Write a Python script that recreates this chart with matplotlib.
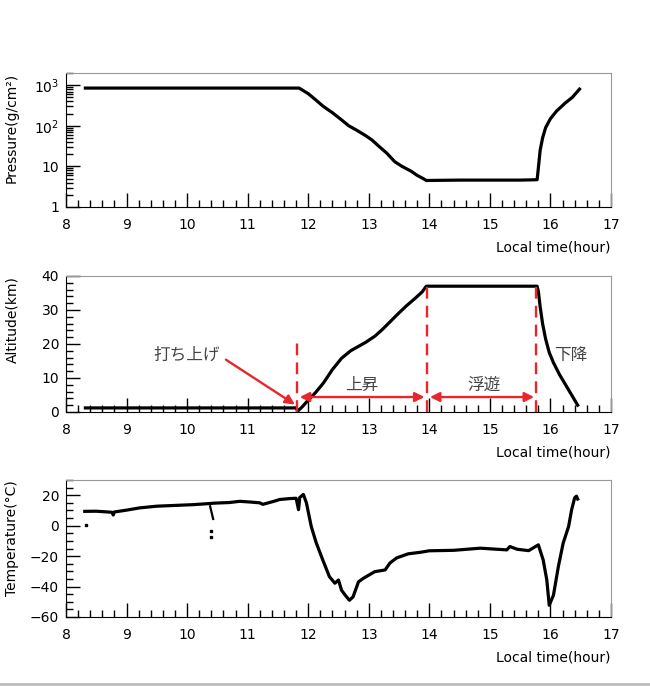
import matplotlib
matplotlib.use("Agg")
import matplotlib.pyplot as plt
import numpy as np
from matplotlib.ticker import MultipleLocator, FixedLocator, FixedFormatter, LogLocator, NullFormatter
from matplotlib.lines import Line2D

plt.rcParams['font.family'] = ['DejaVu Sans', 'Noto Sans CJK JP']

# ---------------- data ----------------
p_time = [8.32, 11.85, 12.0, 12.12, 12.25, 12.40, 12.55, 12.67, 12.80, 12.95, 13.05, 13.15,
          13.30, 13.43, 13.55, 13.70, 13.80, 13.90, 13.95, 14.50, 15.00, 15.50, 15.78,
          15.80, 15.83, 15.87, 15.92, 16.00, 16.10, 16.24, 16.36, 16.48]
p_vals = [850, 850, 620, 440, 300, 210, 140, 100, 78, 57, 45, 33,
          21, 13, 10, 7.6, 6.0, 5.0, 4.5, 4.6, 4.6, 4.6, 4.7,
          9, 25, 50, 90, 150, 230, 360, 500, 800]

a_time = [8.32, 11.80, 11.83, 11.90, 12.00, 12.12, 12.25, 12.40, 12.55, 12.70, 12.95, 13.10,
          13.22, 13.35, 13.49, 13.62, 13.77, 13.88, 13.95, 14.50, 15.00, 15.50, 15.78,
          15.80, 15.83, 15.87, 15.92, 15.98, 16.05, 16.15, 16.25, 16.35, 16.45]
a_vals = [1.2, 1.2, 0.3, 1.5, 3.5, 5.7, 8.5, 12.5, 15.8, 18.0, 20.5, 22.3,
          24.2, 26.5, 29.0, 31.2, 33.5, 35.3, 37.0, 37.0, 37.0, 37.0, 37.0,
          35.5, 31.0, 26.0, 21.5, 17.5, 14.5, 11.0, 8.0, 5.0, 2.0]

t_time = [8.31, 8.50, 8.76, 8.78, 8.80, 9.00, 9.22, 9.50, 9.80, 10.10, 10.36, 10.45, 10.70,
          10.87, 11.05, 11.20, 11.25, 11.45, 11.53, 11.70, 11.80, 11.84, 11.86, 11.92, 11.97,
          12.05, 12.13, 12.24, 12.35, 12.44, 12.50, 12.55, 12.61, 12.68, 12.74, 12.83, 12.91,
          13.10, 13.27, 13.35, 13.46, 13.65, 13.85, 14.00, 14.40, 14.84, 15.28, 15.33, 15.45,
          15.64, 15.80, 15.88, 15.94, 15.98, 16.05, 16.13, 16.21, 16.30, 16.35, 16.40, 16.43,
          16.45]
t_vals = [9.4, 9.5, 8.8, 7.0, 9.0, 10.2, 11.7, 12.8, 13.3, 13.8, 14.5, 14.8, 15.2,
          16.0, 15.5, 15.0, 14.0, 16.2, 17.2, 17.8, 18.0, 10.5, 18.5, 20.5, 15.0,
          -0.5, -11.0, -22.5, -33.5, -37.8, -35.7, -42.4, -45.6, -49.0, -46.8, -36.9, -34.6,
          -30.2, -29.1, -24.5, -21.2, -18.5, -17.5, -16.5, -16.2, -14.8, -15.9, -13.7, -15.5,
          -16.4, -12.6, -22.5, -35.7, -52.3, -45.6, -27.0, -11.5, -0.5, 10.5, 18.3, 19.4,
          17.5]
t_glitch_time = [10.38, 10.43]
t_glitch_vals = [12.7, 4.4]
t_dot_time = [8.33, 10.40, 10.40]
t_dot_vals = [0.6, -3.8, -7.5]

x_ticks = [8, 9, 10, 11, 12, 13, 14, 15, 16, 17]
p_ticks = [1, 10, 100, 1000]
p_tick_labels = ['1', '10', r'$\mathregular{10^{2}}$', r'$\mathregular{10^{3}}$']

# phase annotations
phase_lines = [11.81, 13.96, 15.76]
phase_line_top = [21.3, 37.0, 37.5]
ascent_span = [11.86, 13.92]
float_span = [14.01, 15.73]
arrow_height = 4.4
launch_label = "打ち上げ"
launch_text_pos = (9.99, 16.9)
launch_arrow_from = (10.64, 15.4)
launch_arrow_to = (11.78, 2.2)
phase_labels = ["上昇", "浮遊", "下降"]
phase_label_pos = [(12.88, 8.1), (14.90, 8.1), (16.34, 16.9)]

# ---------------- figure ----------------
W, H = 650, 686
fig = plt.figure(figsize=(W / 100, H / 100), dpi=100)

LEFT, RIGHT = 66, 611

def ax_rect(top_px, bot_px, left_px=LEFT, right_px=RIGHT):
    return [left_px / W, 1 - bot_px / H, (right_px - left_px) / W, (bot_px - top_px) / H]

ax1 = fig.add_axes(ax_rect(73, 207))
ax2 = fig.add_axes(ax_rect(276, 412))
ax3 = fig.add_axes(ax_rect(480, 617))

RED = '#e8262b'
FS = 10

def style(ax, ylabel):
    ax.set_xlim(8, 17)
    ax.xaxis.set_major_locator(FixedLocator(x_ticks))
    ax.xaxis.set_minor_locator(MultipleLocator(0.2))
    ax.tick_params(axis='both', which='major', direction='in', length=10, width=1,
                   labelsize=FS, top=False, right=False, color='black')
    ax.tick_params(axis='both', which='minor', direction='in', length=5, width=1,
                   top=False, right=False, color='black')
    ax.tick_params(axis='x', which='major', pad=8)
    ax.tick_params(axis='y', which='major', pad=5)
    for s in ['top', 'right']:
        ax.spines[s].set_color('#999999')
    for s in ['left', 'bottom']:
        ax.spines[s].set_color('black')
    ax.set_xlabel('Local time(hour)', fontsize=FS, loc='right', labelpad=6)
    ax.set_ylabel(ylabel, fontsize=FS, loc='top')
    ax.yaxis.set_label_coords((19 - LEFT) / (RIGHT - LEFT), 1.0)

# Pressure
ax1.plot(p_time, p_vals, color='black', lw=2.3)
ax1.set_yscale('log')
ax1.set_ylim(1, 2000)
style(ax1, 'Pressure(g/cm²)')
ax1.yaxis.set_major_locator(FixedLocator(p_ticks))
ax1.yaxis.set_major_formatter(FixedFormatter(p_tick_labels))
ax1.yaxis.set_minor_locator(LogLocator(base=10, subs=np.arange(2, 10)))
ax1.yaxis.set_minor_formatter(NullFormatter())

# Altitude
ax2.plot(a_time, a_vals, color='black', lw=2.3)
ax2.set_ylim(0, 40)
style(ax2, 'Altitude(km)')
ax2.yaxis.set_major_locator(MultipleLocator(10))
ax2.yaxis.set_minor_locator(MultipleLocator(2))
for x, top in zip(phase_lines, phase_line_top):
    ax2.plot([x, x], [0, top], color=RED, lw=1.7, ls=(0, (5, 3)))
for span in (ascent_span, float_span):
    ax2.annotate('', xy=(span[1], arrow_height), xytext=(span[0], arrow_height),
                 arrowprops=dict(arrowstyle='<|-|>', color=RED, lw=1.7,
                                 mutation_scale=14, shrinkA=0, shrinkB=0))
ax2.annotate('', xy=launch_arrow_to, xytext=launch_arrow_from,
             arrowprops=dict(arrowstyle='-|>', color=RED, lw=1.7,
                             mutation_scale=14, shrinkA=0, shrinkB=0))
ax2.text(launch_text_pos[0], launch_text_pos[1], launch_label, fontsize=12,
         color='#444444', ha='center', va='center')
for lab, pos in zip(phase_labels, phase_label_pos):
    ax2.text(pos[0], pos[1], lab, fontsize=12, color='#444444', ha='center', va='center')

# Temperature
ax3.plot(t_time, t_vals, color='black', lw=2.3)
ax3.plot(t_glitch_time, t_glitch_vals, color='black', lw=1.6)
ax3.plot(t_dot_time, t_dot_vals, 's', color='black', ms=2)
ax3.set_ylim(-60, 30)
style(ax3, 'Temperature(°C)')
ax3.yaxis.set_major_locator(MultipleLocator(20))
ax3.yaxis.set_minor_locator(MultipleLocator(5))

# bottom gray separator line
fig.add_artist(Line2D([0, 1], [1 - 684 / H, 1 - 684 / H], color='#bbbbbb', lw=2,
                      transform=fig.transFigure))

fig.savefig('out.png', dpi=100)
